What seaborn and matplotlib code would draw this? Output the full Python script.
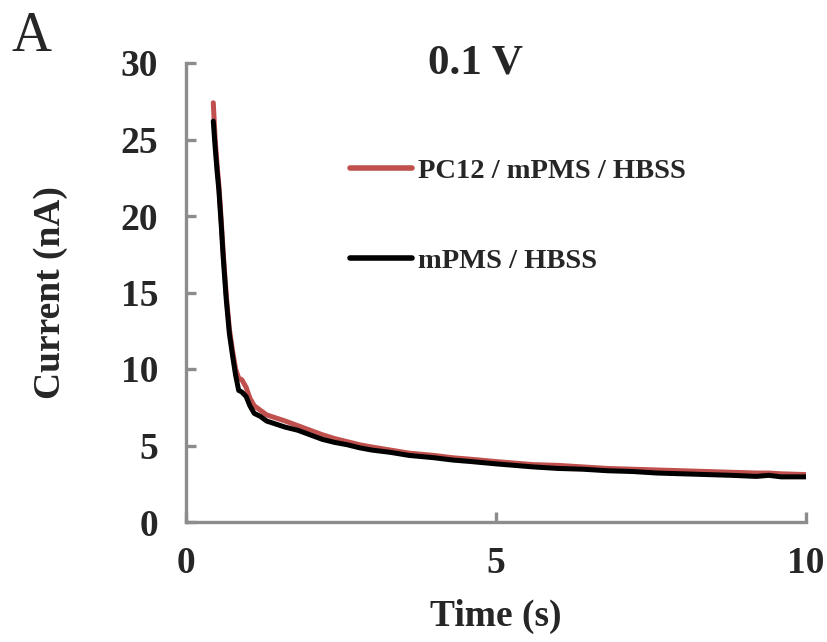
import matplotlib
matplotlib.use("Agg")
import matplotlib.pyplot as plt
import seaborn as sns
import pandas as pd

# Chronoamperometric response at 0.1 V
time_s = [0.44, 0.47, 0.50, 0.53, 0.57, 0.60, 0.65, 0.70, 0.75, 0.80,
          0.85, 0.90, 0.97, 1.03, 1.10, 1.20, 1.30, 1.45, 1.60, 1.80,
          2.00, 2.20, 2.40, 2.60, 2.80, 3.00, 3.30, 3.60, 4.00, 4.30,
          4.60, 5.00, 5.30, 5.60, 6.00, 6.40, 6.80, 7.20, 7.60, 8.00,
          8.40, 8.80, 9.20, 9.40, 9.60, 10.00]

current_pc12 = [27.4, 25.0, 23.4, 22.0, 19.6, 17.6, 14.8, 12.6, 11.2, 10.0,
                9.4, 9.3, 8.8, 8.1, 7.6, 7.3, 7.0, 6.8, 6.6, 6.3,
                6.0, 5.7, 5.45, 5.25, 5.05, 4.9, 4.7, 4.5, 4.35, 4.2,
                4.1, 3.95, 3.85, 3.75, 3.7, 3.6, 3.5, 3.45, 3.4, 3.35,
                3.3, 3.25, 3.2, 3.2, 3.15, 3.1]

current_ctrl = [26.2, 24.5, 23.0, 21.7, 19.3, 17.3, 14.5, 12.3, 10.9, 9.6,
                8.6, 8.5, 8.2, 7.6, 7.1, 6.9, 6.6, 6.4, 6.2, 6.0,
                5.7, 5.4, 5.2, 5.05, 4.85, 4.7, 4.55, 4.35, 4.2, 4.05,
                3.95, 3.8, 3.7, 3.6, 3.5, 3.45, 3.35, 3.3, 3.2, 3.15,
                3.1, 3.05, 2.98, 3.05, 2.95, 2.95]

series_names = ["PC12 / mPMS / HBSS", "mPMS / HBSS"]
series_colors = ["#c0504d", "#000000"]

x_ticks = [0, 5, 10]
y_ticks = [0, 5, 10, 15, 20, 25, 30]

df = pd.DataFrame({
    "Time (s)": time_s * 2,
    "Current (nA)": current_pc12 + current_ctrl,
    "series": [series_names[0]] * len(time_s) + [series_names[1]] * len(time_s),
})

sns.set_style("white")
plt.rcParams["font.family"] = ["Liberation Serif", "DejaVu Serif"]

fig = plt.figure(figsize=(8.28, 6.42), dpi=100)
ax = fig.add_axes([186 / 828, 1 - 522 / 642, 620 / 828, 459 / 642])

sns.lineplot(data=df, x="Time (s)", y="Current (nA)", hue="series",
             hue_order=series_names, palette=series_colors,
             linewidth=3.6, ax=ax, estimator=None, sort=False)

ax.set_xlim(0, 10)
ax.set_ylim(0, 30)
ax.set_xticks(x_ticks)
ax.set_yticks(y_ticks)

spine_color = "#8c8c8c"
for side in ["top", "right"]:
    ax.spines[side].set_visible(False)
for side in ["left", "bottom"]:
    ax.spines[side].set_color(spine_color)
    ax.spines[side].set_linewidth(2.4)

ax.tick_params(axis="both", direction="in", length=7, width=2.4,
               color=spine_color, labelsize=27, bottom=True, left=True)
ax.tick_params(axis="y", pad=20)
ax.tick_params(axis="x", pad=17)
for lbl in ax.get_xticklabels() + ax.get_yticklabels():
    lbl.set_fontweight("bold")

ax.set_xlabel("Time (s)", fontsize=27, fontweight="bold", labelpad=13)
ax.set_ylabel("Current (nA)", fontsize=27, fontweight="bold", labelpad=38)

fig.text(476 / 828, 1 - 64 / 642, "0.1 V", fontsize=31, fontweight="bold",
         ha="center", va="center")
fig.text(12 / 828, 1 - 37 / 642, "A", fontsize=40, ha="left", va="center")

leg = ax.legend(loc="upper left", bbox_to_anchor=(0.265, 0.792),
                frameon=False, borderpad=0, borderaxespad=0,
                handlelength=2.17, handletextpad=0.2, labelspacing=2.25,
                prop={"family": ["Liberation Serif"], "weight": "bold", "size": 20.5})
for line in leg.get_lines():
    line.set_linewidth(4)

fig.savefig("out.png", dpi=100, facecolor="white")
